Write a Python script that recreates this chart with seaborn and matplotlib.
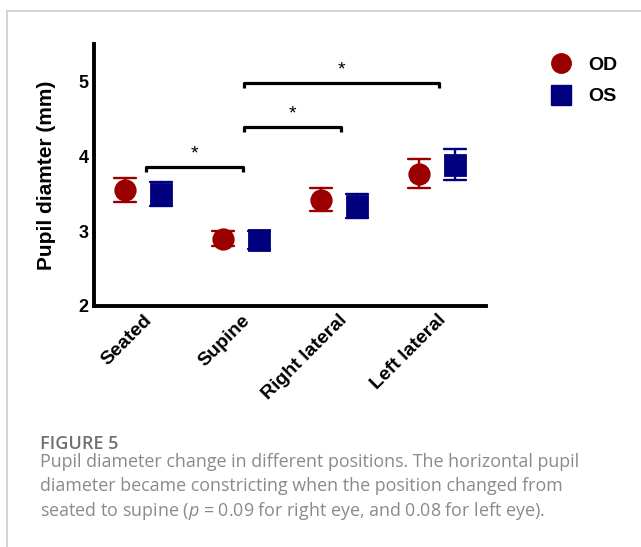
import numpy as np
import pandas as pd
import matplotlib
matplotlib.use("Agg")
import matplotlib.pyplot as plt
from matplotlib.lines import Line2D
import seaborn as sns

# ---- data ----
categories = ["Seated", "Supine", "Right lateral", "Left lateral"]
eyes = ["OD", "OS"]
od_mean = [3.55, 2.90, 3.42, 3.77]
od_err = [0.16, 0.10, 0.15, 0.19]
os_mean = [3.50, 2.88, 3.34, 3.89]
os_err = [0.16, 0.12, 0.16, 0.21]
y_ticks = [2, 3, 4, 5]
# significance brackets: (start category index, end category index, bar height)
bracket_start = [0, 1, 1]
bracket_end = [1, 2, 3]
bracket_height = [3.86, 4.39, 4.98]
bracket_label = ["*", "*", "*"]

caption_title = "FIGURE 5"
caption_lines = [
    "Pupil diameter change in different positions. The horizontal pupil",
    "diameter became constricting when the position changed from",
    r"seated to supine ($\mathit{p}$ = 0.09 for right eye, and 0.08 for left eye).",
]

# long table: low/high ends per group -> mean with min-max interval
rows = []
for eye, means, errs in (("OD", od_mean, od_err), ("OS", os_mean, os_err)):
    for cat, m, e in zip(categories, means, errs):
        rows.append({"Position": cat, "Eye": eye, "Diameter": m - e})
        rows.append({"Position": cat, "Eye": eye, "Diameter": m + e})
df = pd.DataFrame(rows)

palette = {"OD": "#9b0000", "OS": "#00007f"}

sns.set_theme(style="white")
plt.rcParams["font.family"] = ["Liberation Sans", "DejaVu Sans"]
plt.rcParams["text.color"] = "black"
plt.rcParams["axes.labelcolor"] = "black"
plt.rcParams["mathtext.fontset"] = "custom"
plt.rcParams["mathtext.it"] = "Open Sans:italic"
plt.rcParams["mathtext.rm"] = "Open Sans"

W, H = 641, 547
fig = plt.figure(figsize=(W / 100, H / 100), dpi=100)
ax = fig.add_axes([94 / W, 1 - 306 / H, (486 - 94) / W, (306 - 44) / H])

sns.pointplot(
    data=df, x="Position", y="Diameter", hue="Eye",
    order=categories, hue_order=eyes, palette=palette,
    dodge=0.37, markers=["o", "s"], linestyle="none",
    estimator="mean", errorbar=("pi", 100), capsize=0.23,
    err_kws={"linewidth": 1.7}, markersize=14, ax=ax,
)
if ax.get_legend() is not None:
    ax.get_legend().remove()

ax.set_xlim(-0.5, 3.5)
ax.set_ylim(2, 5.5)
ax.set_yticks(y_ticks)
ax.set_yticklabels([str(t) for t in y_ticks], fontsize=13, fontweight="bold")
ax.set_xticks(range(len(categories)))
ax.set_xticklabels(categories, rotation=45, ha="right", va="top",
                   rotation_mode="anchor", fontsize=14, fontweight="bold")
ax.set_xlabel("")
ax.set_ylabel("Pupil diamter (mm)", fontsize=15, fontweight="bold", labelpad=16,
              color="black")
for s in ("top", "right"):
    ax.spines[s].set_visible(False)
for s in ("left", "bottom"):
    ax.spines[s].set_linewidth(2.8)
    ax.spines[s].set_color("black")
ax.tick_params(axis="both", direction="in", length=5, width=2.8, colors="black")
ax.tick_params(axis="x", pad=4)
ax.tick_params(axis="y", pad=4)

# significance brackets
drop = 0.07
for x0, x1, h, lab in zip(bracket_start, bracket_end, bracket_height, bracket_label):
    xa, xb = x0 + 0.03, x1 + 0.02
    ax.plot([xa, xa, xb, xb], [h - drop, h, h, h - drop], color="black",
            lw=2.3, solid_capstyle="butt", clip_on=False)
    ax.text((xa + xb) / 2, h + 0.06, lab, ha="center", va="bottom",
            fontsize=14, color="black")

# legend
handles = [
    Line2D([], [], marker="o", linestyle="none", markersize=14,
           color=palette["OD"], markeredgecolor=palette["OD"]),
    Line2D([], [], marker="s", linestyle="none", markersize=14,
           color=palette["OS"], markeredgecolor=palette["OS"]),
]
leg = fig.legend(handles, eyes, loc="upper left",
                 bbox_to_anchor=(532 / W, 1 - 39 / H), frameon=False,
                 handlelength=1.2, handletextpad=0.8, labelspacing=0.7,
                 prop={"weight": "bold", "size": 14})
for t in leg.get_texts():
    t.set_color("black")

# frame lines of the figure panel
fig.add_artist(Line2D([6.5 / W, 1], [1 - 10.5 / H, 1 - 10.5 / H],
                      transform=fig.transFigure, color="#cccccc", lw=1.2))
fig.add_artist(Line2D([6.5 / W, 6.5 / W], [0, 1 - 10.5 / H],
                      transform=fig.transFigure, color="#cccccc", lw=1.2))

# caption
fig.text(40 / W, 1 - 449 / H, caption_title, fontsize=13, color="#707070",
         family=["Open Sans", "DejaVu Sans"], fontweight="semibold",
         ha="left", va="baseline")
for i, line in enumerate(caption_lines):
    fig.text(40 / W, 1 - (467 + 24.3 * i) / H, line, fontsize=12.9,
             color="#8a8a8a", family=["Open Sans", "DejaVu Sans"],
             ha="left", va="baseline")

fig.savefig("out.png", dpi=100)
